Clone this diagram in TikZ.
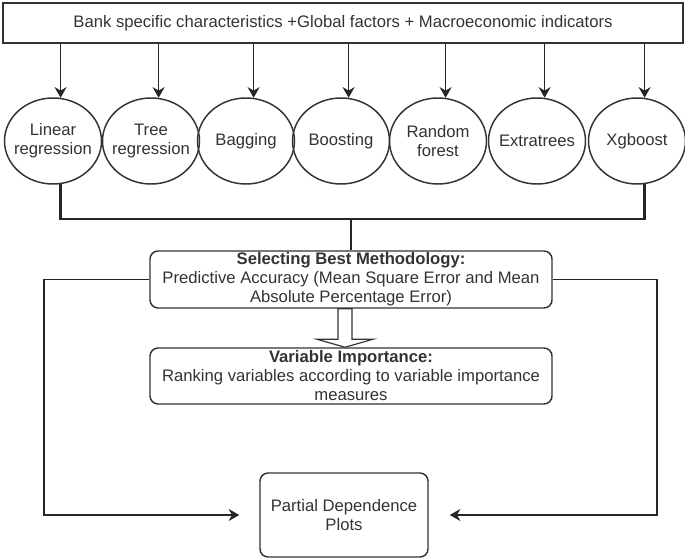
\documentclass[tikz,border=0pt]{standalone}
\usepackage{fontspec}
\setmainfont{Liberation Sans}
\usetikzlibrary{arrows.meta, shapes.geometric, positioning, calc}

\begin{document}
\begin{tikzpicture}[x=0.75pt, y=-0.75pt,
    font=\fontsize{12.5}{14.25}\selectfont,
    every node/.style={text=black!80, inner sep=0pt, align=center},
    inbox/.style={draw=black!80, line width=1pt, minimum width=510pt, minimum height=30pt},
    method/.style={draw=black!80, ellipse, line width=1.1pt, minimum width=72.75pt, minimum height=64.5pt},
    stepbox/.style={draw=black!80, rounded corners=6pt, line width=1.1pt},
    arr/.style={draw=black!85, line width=1pt, -{Stealth[length=8pt, width=9pt]}},
    bracket/.style={draw=black!85, line width=1.8pt},
    hollow/.style={draw=black!80, line width=0.9pt, fill=white}]
    \def\pxu{0.75pt}
    \useasboundingbox (0,0) rectangle (685,559);

    % inputs
    \node[inbox] (inputs) at (343,23) {Bank specific characteristics +Global factors + Macroeconomic indicators};

    % the seven methods
    \foreach \x/\name/\txt in {53/m1/{Linear\\regression}, 151/m2/{Tree\\regression}, 246/m3/{Bagging},
        341/m4/{Boosting}, 438/m5/{Random\\forest}, 537/m6/{Extratrees}, 637/m7/{Xgboost}}
        \node[method, label={center:\txt}] (\name) at (\x,141) {};

    \foreach \i in {1,...,7}
        \draw[arr] (inputs.south -| m\i.80) -- (m\i.80);

    % selection
    \node[stepbox, minimum width=402*\pxu, minimum height=57*\pxu] (best) at (351,279.5)
        {\textbf{Selecting Best Methodology:}\\Predictive Accuracy (Mean Square Error and Mean\\Absolute Percentage Error)};
    \coordinate (join) at (351,219);
    \draw[bracket] (m1.-80) -- (m1.-80 |- join) -- (m7.-80 |- join) -- (m7.-80);
    \draw[bracket, line width=1.3pt] (join) -- (best.north);

    \node[stepbox, minimum width=402*\pxu, minimum height=56*\pxu] (varimp) at (351,376)
        {\textbf{Variable Importance:}\\Ranking variables according to variable importance\\measures};

    \coordinate (tip) at ($(varimp.north)+(-6,0)$);
    \draw[hollow] (tip) -- ++(-28,-8) -- ++(21,0) -- ($(best.south)+(-13,0)$) -- ++(14,0)
        -- ($(tip)+(7,-8)$) -- ++(21,0) -- cycle;

    % partial dependence
    \node[stepbox, minimum width=168*\pxu, minimum height=84*\pxu] (pdp) at (344,515)
        {Partial Dependence\\Plots};
    \coordinate (lcorner) at (44,515);
    \coordinate (rcorner) at (657,515);
    \draw[arr, shorten >=20*\pxu] (best.west) -| (lcorner) -- (pdp.west);
    \draw[arr, shorten >=21*\pxu] (best.east) -| (rcorner) -- (pdp.east);
\end{tikzpicture}
\end{document}
